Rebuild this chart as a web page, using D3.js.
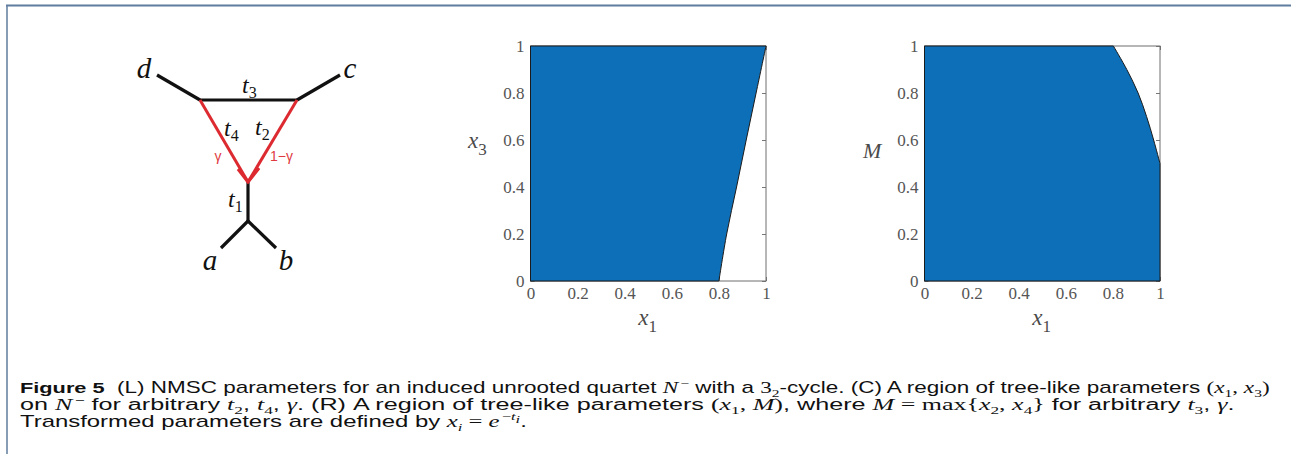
<!DOCTYPE html>
<html lang="en">
<head>
<meta charset="utf-8">
<style>
  body { margin: 0; background: #fff; }
  svg { display: block; }
  .tick text { font-family: "Liberation Serif", "Times New Roman", serif; font-size: 17px; fill: #555; }
  .cap { white-space: pre; }
</style>
</head>
<body>
<svg width="1291" height="454"></svg>
<script src="https://cdn.jsdelivr.net/npm/d3@7/dist/d3.min.js"></script>
<script>
// ---- data ----
var tickVals = [0, 0.2, 0.4, 0.6, 0.8, 1];
// centre panel: edge of tree-like region, x1 against x3
var cX1 = [0.8, 0.833, 0.875, 0.916, 0.958, 1];
var cX3 = [0, 0.2, 0.4, 0.6, 0.8, 1];
// right panel: edge of tree-like region, x1 against M
var rX1 = [1, 0.973, 0.943, 0.907, 0.859, 0.802];
var rM  = [0.5, 0.6, 0.7, 0.8, 0.9, 1];
// network diagram (L)
var diagNodes = [
  {id: "d", x: 157, y: 75}, {id: "u", x: 200, y: 100}, {id: "v", x: 297, y: 100},
  {id: "c", x: 340, y: 75}, {id: "h", x: 248, y: 182}, {id: "r", x: 248, y: 221},
  {id: "a", x: 221, y: 248}, {id: "b", x: 276, y: 248}
];
var treeEdges = [["d", "u"], ["u", "v"], ["v", "c"], ["h", "r"], ["r", "a"], ["r", "b"]];
var hybridEdges = [["u", "h"], ["v", "h"]];

var svg = d3.select("svg");
var serif = '"Liberation Serif", "Times New Roman", serif';
var sans = '"Liberation Sans", Arial, sans-serif';
var blue = "#0d6fb8", red = "#dc2a30";

// frame lines
svg.append("line").attr("x1", 7).attr("y1", 5).attr("x2", 7).attr("y2", 454)
  .attr("stroke", "#5f7d9e").attr("stroke-width", 1.5);
svg.append("line").attr("x1", 6).attr("y1", 5.5).attr("x2", 1291).attr("y2", 5.5)
  .attr("stroke", "#5f7d9e").attr("stroke-width", 2);

// ---- diagram ----
var N = {};
diagNodes.forEach(function (n) { N[n.id] = n; });
var dg = svg.append("g");
dg.selectAll(".tedge").data(treeEdges).enter().append("line")
  .attr("x1", function (e) { return N[e[0]].x; }).attr("y1", function (e) { return N[e[0]].y; })
  .attr("x2", function (e) { return N[e[1]].x; }).attr("y2", function (e) { return N[e[1]].y; })
  .attr("stroke", "#111").attr("stroke-width", 3.2).attr("stroke-linecap", "butt");
dg.selectAll(".hedge").data(hybridEdges).enter().append("line")
  .attr("x1", function (e) { return N[e[0]].x; }).attr("y1", function (e) { return N[e[0]].y; })
  .attr("x2", function (e) { return N[e[1]].x; }).attr("y2", function (e) { return N[e[1]].y; })
  .attr("stroke", red).attr("stroke-width", 3);
dg.append("path")
  .attr("d", "M" + (N.h.x - 10) + "," + (N.h.y - 13) + "L" + N.h.x + "," + N.h.y + "L" + (N.h.x + 11) + "," + (N.h.y - 14))
  .attr("fill", "none").attr("stroke", red).attr("stroke-width", 3.2);

function leafLabel(t, x, y) {
  dg.append("text").attr("x", x).attr("y", y).attr("text-anchor", "middle")
    .style("font-family", serif).style("font-style", "italic").style("font-size", "29px")
    .attr("fill", "#111").text(t);
}
leafLabel("d", 144, 78);
leafLabel("c", 350, 78);
leafLabel("a", 210, 270);
leafLabel("b", 286, 270);

function tLabel(sub, x, y) {
  var t = dg.append("text").attr("x", x).attr("y", y).attr("fill", "#111").style("font-family", serif);
  t.append("tspan").style("font-style", "italic").style("font-size", "24px").text("t");
  t.append("tspan").attr("dy", 5).style("font-size", "16px").text(sub);
}
tLabel("3", 242, 93);
tLabel("4", 224, 136);
tLabel("2", 255, 135);
tLabel("1", 228, 207);
dg.append("text").attr("x", 218).attr("y", 161).attr("text-anchor", "middle")
  .style("font-family", sans).style("font-size", "14px").attr("fill", "#e03a3f").text("γ");
dg.append("text").attr("x", 270).attr("y", 161)
  .style("font-family", sans).style("font-size", "14px").attr("fill", "#e03a3f").text("1−γ");

// ---- panels ----
function fmt(d) { return (d === 0 || d === 1) ? String(d) : d.toFixed(1); }

function panel(left, right, top, bottom, bx, by, corners, ylab, ylabX) {
  var x = d3.scaleLinear().domain([0, 1]).range([left, right]);
  var y = d3.scaleLinear().domain([0, 1]).range([bottom, top]);
  var g = svg.append("g");

  g.append("g").attr("transform", "translate(" + left + ",0)")
    .call(d3.axisLeft(y).tickValues(tickVals).tickFormat(fmt).tickSize(-4).tickSizeOuter(0).tickPadding(6));
  g.append("g").attr("transform", "translate(0," + bottom + ")")
    .call(d3.axisBottom(x).tickValues(tickVals).tickFormat(fmt).tickSize(-4).tickSizeOuter(0).tickPadding(6));
  g.append("g").attr("transform", "translate(" + right + ",0)")
    .call(d3.axisRight(y).tickValues(tickVals).tickFormat("").tickSize(-4).tickSizeOuter(0));
  g.append("g").attr("transform", "translate(0," + top + ")")
    .call(d3.axisTop(x).tickValues(tickVals).tickFormat("").tickSize(-4).tickSizeOuter(0));
  g.selectAll(".domain").remove();
  g.selectAll(".tick line").attr("stroke", "#777");

  g.append("rect").attr("x", left).attr("y", top).attr("width", right - left).attr("height", bottom - top)
    .attr("fill", "none").attr("stroke", "#6e6e6e").attr("stroke-width", 1);

  var pts = bx.map(function (v, i) { return [x(v), y(by[i])]; });
  var edge = d3.line().curve(d3.curveCatmullRom)(pts);
  var before = corners[0].map(function (p) { return x(p[0]) + "," + y(p[1]); });
  var after = corners[1].map(function (p) { return x(p[0]) + "," + y(p[1]); });
  var dPath = "M" + before.join("L") + "L" + edge.slice(1) + (after.length ? "L" + after.join("L") : "") + "Z";
  g.append("path").attr("d", dPath).attr("fill", blue).attr("stroke", "#1b1b1b").attr("stroke-width", 1);

  // axis labels
  var xl = g.append("text").attr("x", (left + right) / 2 - 10).attr("y", 325).attr("fill", "#4a4a4a").style("font-family", serif);
  xl.append("tspan").style("font-style", "italic").style("font-size", "23px").text("x");
  xl.append("tspan").attr("dy", 7).style("font-size", "17px").text("1");

  var yl = g.append("text").attr("x", ylabX).attr("y", 148).attr("fill", "#4a4a4a").style("font-family", serif);
  yl.append("tspan").style("font-style", "italic").style("font-size", ylab.sub ? "23px" : "22px").text(ylab.main);
  if (ylab.sub) yl.append("tspan").attr("dy", 7).style("font-size", "17px").text(ylab.sub);
  else yl.attr("y", 158);
}

panel(530.5, 766, 46, 281, cX1, cX3, [[[0, 1], [0, 0]], [[0, 1]]], {main: "x", sub: "3"}, 468);
panel(924.5, 1160, 46, 281, rX1, rM, [[[0, 1], [0, 0], [1, 0]], [[0, 1]]], {main: "M"}, 863);

// ---- caption ----
function S(t, k, dy) { return {t: t, k: k || "r", p: dy || 0}; }
var capLines = [
  [S("Figure 5", "b"), S("  (L) NMSC parameters for an induced unrooted quartet "), S("N", "i"), S("−", "m", -6),
   S(" with a "), S("3", "m"), S("2", "m", 4), S("-cycle. (C) A region of tree-like parameters "),
   S("(", "m"), S("x", "i"), S("1", "m", 4), S(", ", "m"), S("x", "i"), S("3", "m", 4), S(")", "m")],
  [S("on "), S("N", "i"), S("−", "m", -6), S(" for arbitrary "), S("t", "i"), S("2", "m", 4), S(", "), S("t", "i"), S("4", "m", 4),
   S(", "), S("γ", "i"), S(". (R) A region of tree-like parameters "), S("(", "m"), S("x", "i"), S("1", "m", 4), S(", ", "m"),
   S("M", "i"), S(")", "m"), S(", where "), S("M", "i"), S(" = max{", "m"), S("x", "i"), S("2", "m", 4), S(", ", "m"),
   S("x", "i"), S("4", "m", 4), S("}", "m"), S(" for arbitrary "), S("t", "i"), S("3", "m", 4), S(", "), S("γ", "i"), S(".")],
  [S("Transformed parameters are defined by "), S("x", "i"), S("i", "i", 4), S(" = ", "m"), S("e", "i"),
   S("−", "m", -7), S("t", "i", -7), S("i", "i", -4), S(".")]
];
var capBase = [393, 410, 427];
var capWidth = [1248, 1213, 505];

capLines.forEach(function (segs, li) {
  var t = svg.append("text").attr("class", "cap").attr("x", 0).attr("y", 0).attr("fill", "#111");
  var cur = 0;
  segs.forEach(function (s) {
    var sp = t.append("tspan").attr("dy", s.p - cur).text(s.t);
    if (s.p < -5 && cur >= 0) sp.attr("dx", 1.5);
    cur = s.p;
    var small = s.p !== 0;
    if (s.k === "b") sp.style("font-family", sans).style("font-weight", "bold").style("font-size", "15.5px");
    else if (s.k === "r") sp.style("font-family", sans).style("font-size", "16px");
    else {
      sp.style("font-family", serif).style("font-size", small ? "11px" : "16.5px");
      if (s.k === "i") sp.style("font-style", "italic");
    }
  });
  var w = t.node().getComputedTextLength();
  t.attr("transform", "translate(20," + capBase[li] + ") scale(" + (capWidth[li] / w) + ",1)");
});
</script>
</body>
</html>
